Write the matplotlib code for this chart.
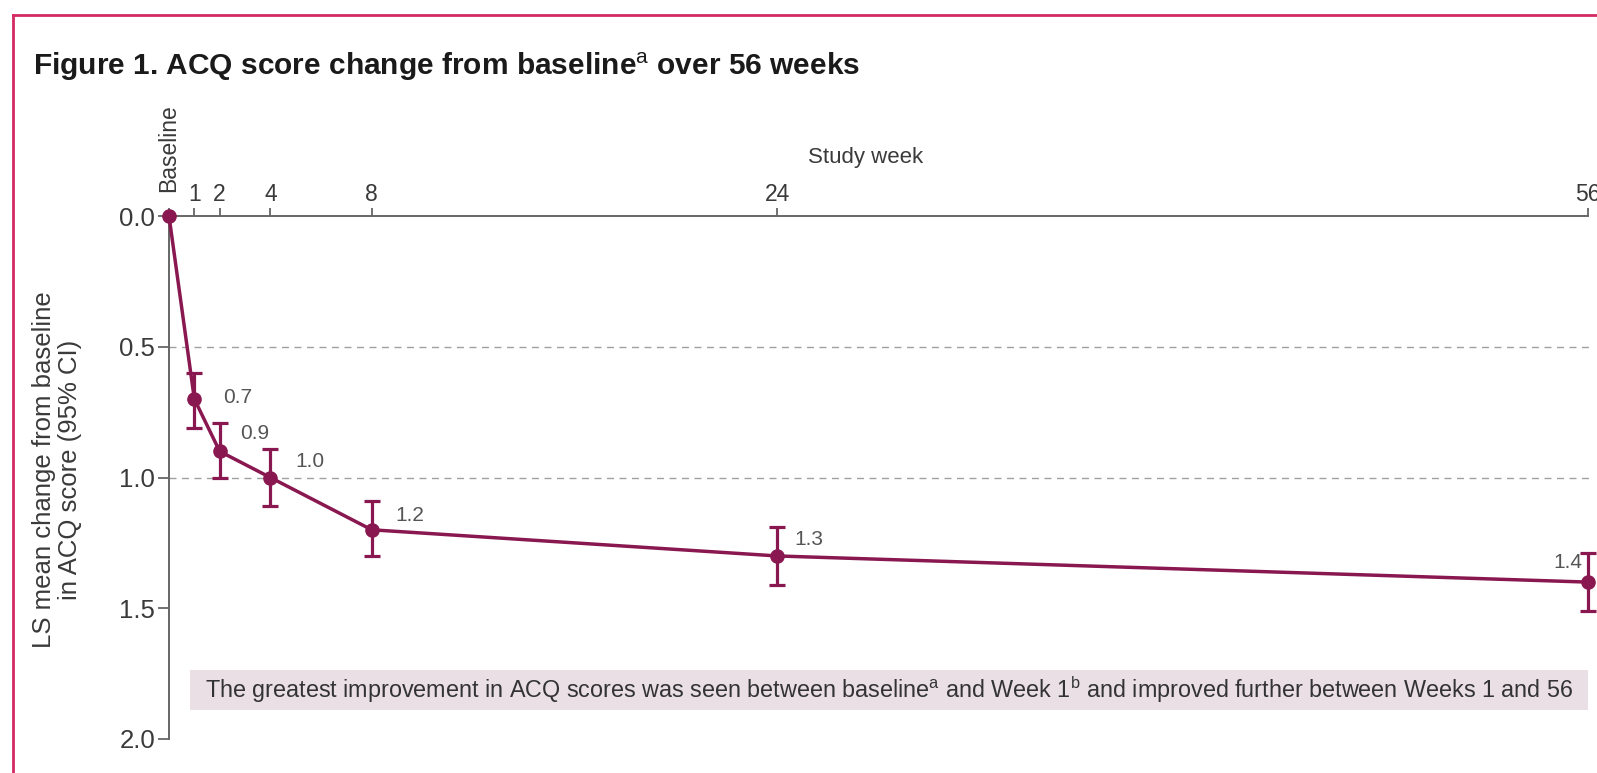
import matplotlib
matplotlib.use("Agg")
import matplotlib.pyplot as plt
from matplotlib.patches import Rectangle
from matplotlib.lines import Line2D

plt.rcParams['font.family'] = ['Liberation Sans', 'DejaVu Sans']
plt.rcParams['mathtext.fontset'] = 'custom'
plt.rcParams['mathtext.rm'] = 'Liberation Sans'
plt.rcParams['mathtext.it'] = 'Liberation Sans:italic'
plt.rcParams['mathtext.bf'] = 'Liberation Sans:bold'

# ---- data ----
weeks = [0, 1, 2, 4, 8, 24, 56]
week_labels = ['Baseline', '1', '2', '4', '8', '24', '56']
ls_mean = [0.0, 0.7, 0.9, 1.0, 1.2, 1.3, 1.4]
ci_low = [0.60, 0.79, 0.89, 1.09, 1.19, 1.29]     # weeks 1..56
ci_high = [0.81, 1.00, 1.11, 1.30, 1.41, 1.51]
y_ticks = [0.0, 0.5, 1.0, 1.5, 2.0]
grid_levels = [0.5, 1.0]

title = r"Figure 1. ACQ score change from baseline$^{\mathrm{a}}$ over 56 weeks"
note = (r"The greatest improvement in ACQ scores was seen between baseline$^{\mathrm{a}}$ "
        r"and Week 1$^{\mathrm{b}}$ and improved further between Weeks 1 and 56")

LINE = '#8a1850'
TEXT = '#3a3a3a'
AXIS = '#666666'

W, H = 1597, 773
fig = plt.figure(figsize=(W / 100, H / 100), dpi=100)

# axes placed so that week 0..56 spans the top axis and 0..2 the left axis
x_left, x_56, x_right = 169, 1588, 1593
y_top, y_bottom = 216, 739
ax = fig.add_axes([x_left / W, (H - y_bottom) / H,
                   (x_right - x_left) / W, (y_bottom - y_top) / H])
ax.set_xlim(0, 56 * (x_right - x_left) / (x_56 - x_left))
ax.set_ylim(2.0, 0.0)

for s in ('right', 'bottom'):
    ax.spines[s].set_visible(False)
ax.spines['top'].set_bounds(0, 56)
ax.spines['left'].set_bounds(0, 2)
for s in ('top', 'left'):
    ax.spines[s].set_color(AXIS)
    ax.spines[s].set_linewidth(1.4)

ax.xaxis.tick_top()
ax.set_xticks(weeks)
# the baseline label is drawn separately, rotated and raised above the others
ax.set_xticklabels([''] + week_labels[1:])
ax.tick_params(axis='x', direction='out', length=5.5, width=1.3, color=AXIS,
               pad=2, labelsize=16.5, labelcolor=TEXT)
ax.annotate(week_labels[0], (weeks[0], 0.0), xytext=(0, 24),
            textcoords='offset pixels', rotation=90, ha='center', va='bottom',
            fontsize=16.5, color=TEXT, annotation_clip=False)
ax.set_yticks(y_ticks)
ax.set_yticklabels([f"{v:.1f}" for v in y_ticks])
ax.tick_params(axis='y', direction='out', length=8, width=1.3, color=AXIS,
               pad=2, labelsize=18.5, labelcolor=TEXT)

for g in grid_levels:
    ax.axhline(g, color='#a0a0a0', lw=1.0, ls=(0, (5, 4)), zorder=1)

# error bars and mean trajectory
err_lo = [m - lo for m, lo in zip(ls_mean[1:], ci_low)]
err_hi = [hi - m for m, hi in zip(ls_mean[1:], ci_high)]
ax.errorbar(weeks[1:], ls_mean[1:], yerr=[err_lo, err_hi], fmt='none',
            ecolor=LINE, elinewidth=2.3, capsize=5.5, capthick=2.3,
            zorder=3, clip_on=False)
ax.plot(weeks, ls_mean, color=LINE, lw=2.5, marker='o', markersize=9.5,
        zorder=4, clip_on=False)

# value labels
offsets = [(29, 2, 'left'), (20, 18, 'left'), (25, 16, 'left'),
           (24, 14, 'left'), (17, 16, 'left'), (-6, 20, 'right')]
for wk, m, (dx, dy, ha) in zip(weeks[1:], ls_mean[1:], offsets):
    ax.annotate(f"{m:.1f}", (wk, m), xytext=(dx, dy), textcoords='offset pixels',
                ha=ha, va='center', fontsize=15, color='#555555')

# highlighted note
ax.add_patch(Rectangle((0.83, 1.735), 56 - 0.83, 0.155, facecolor='#e9dfe5',
                       edgecolor='none', zorder=2))
ax.text((0.83 + 56) / 2, 1.735 + 0.155 / 2, note, ha='center', va='center',
        fontsize=16.8, color='#333333', zorder=3)

# titles and axis labels
fig.text(33 / W, 1 - 75 / H, title, fontsize=21.5, fontweight='bold',
         color='#1a1a1a', ha='left', va='baseline')
fig.text(866 / W, 1 - 158 / H, "Study week", fontsize=16, color=TEXT,
         ha='center', va='center')
fig.text(57 / W, 1 - 470 / H, "LS mean change from baseline\nin ACQ score (95% CI)",
         rotation=90, ha='center', va='center', fontsize=18.5, linespacing=1.1,
         multialignment='center', color=TEXT)

# frame border
fig.add_artist(Line2D([13 / W, 1], [1 - 15 / H, 1 - 15 / H],
                      transform=fig.transFigure, color='#d42a62', lw=2))
fig.add_artist(Line2D([13 / W, 13 / W], [1 - 15 / H, 0],
                      transform=fig.transFigure, color='#d42a62', lw=2))

fig.savefig("out.png", dpi=100)
